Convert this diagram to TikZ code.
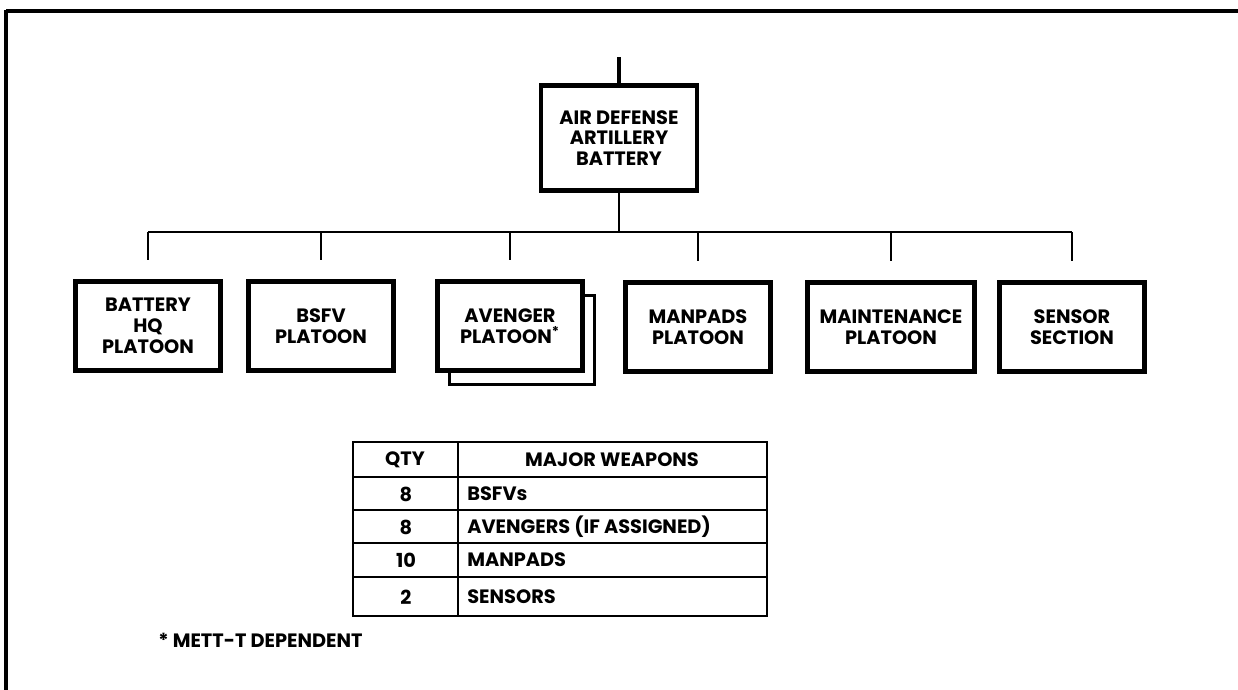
\documentclass[tikz,border=0pt]{standalone}
\usepackage{fontspec}
\setmainfont{Poppins}
\begin{document}
\begin{tikzpicture}[x=0.02cm,y=-0.02cm,
  unit/.style={draw,line width=2.6pt,fill=white,align=center,inner sep=0pt,
    minimum width=2.9cm,minimum height=1.78cm,font=\bfseries\fontsize{11}{11.8}\selectfont},
  cell/.style={font=\bfseries\fontsize{11}{12}\selectfont,inner sep=0pt},
  link/.style={line width=0.85pt}]
  \useasboundingbox (0,0) rectangle (1238,690);
  \draw[line width=2.8pt] (6,11) -- (1238,11);
  \draw[line width=1.8pt] (6,9.5) -- (6,690);
  \node[unit,minimum width=3.12cm,minimum height=2.1cm] (adab) at (619,138) {AIR DEFENSE\\ARTILLERY\\BATTERY};
  \coordinate (top) at (619,57);
  \coordinate (bus) at (610,232);
  \node[unit] (hq) at (148,326) {BATTERY\\HQ\\PLATOON};
  \node[unit] (bsfv) at (321,326) {BSFV\\PLATOON};
  \node[unit,line width=1.8pt] (shadow) at (522,340) {};
  \node[unit] (avenger) at (510,326) {AVENGER\\PLATOON\textsuperscript{*}};
  \node[unit] (manpads) at (698,327) {MANPADS\\PLATOON};
  \node[unit,minimum width=3.34cm] (maint) at (891,327) {MAINTENANCE\\PLATOON};
  \node[unit] (sensor) at (1072,327) {SENSOR\\SECTION};
  \draw[line width=2.4pt] (adab.north) -- (top);
  \draw[link] (adab.south) -- (adab.south |- bus);
  \draw[link] (hq.north |- bus) -- (sensor.north |- bus);
  \foreach \n in {hq,bsfv,avenger,manpads,maint,sensor}
    \draw[link] (\n.north |- bus) -- ([yshift=0.38cm]\n.north);
  \draw[line width=1.1pt] (353,442) rectangle (767,616);
  \draw[line width=1pt] (458,442) -- (458,616);
  \foreach \y in {477,510,543,577}
    \draw[line width=0.9pt] (353,\y) -- (767,\y);
  \node[cell] (qty) at (405,460) {QTY};
  \node[cell] (weapons) at (612,460) {MAJOR WEAPONS};
  \foreach \y/\q/\w in {494/8/BSFVs,527/8/AVENGERS (IF ASSIGNED),560/10/MANPADS,597/2/SENSORS}{
    \node[cell] at (406,\y) {\q};
    \node[cell,anchor=west] at (467,\y) {\w};
  }
  \node[cell,anchor=west] (note) at (158,640) {* METT-T DEPENDENT};
\end{tikzpicture}
\end{document}
